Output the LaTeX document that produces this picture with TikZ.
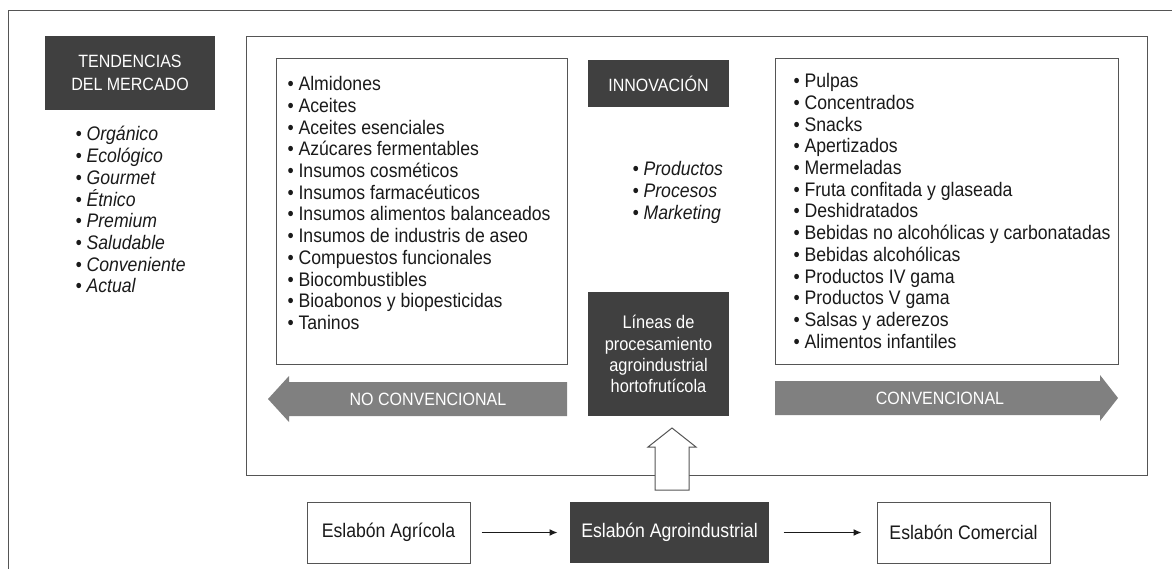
\documentclass[tikz,border=0pt]{standalone}
\usepackage{fontspec}
\setmainfont{Liberation Sans}[FakeStretch=0.9]
\usetikzlibrary{positioning,calc,arrows.meta}
\definecolor{boxdark}{HTML}{404040}
\definecolor{bandgray}{HTML}{808080}
\definecolor{framegray}{HTML}{555555}
\definecolor{inkgray}{HTML}{1a1a1a}
\newcommand{\listsize}{\fontsize{19.6}{21.7}\selectfont}
\newcommand{\capsize}{\fontsize{17.8}{23}\selectfont}

\begin{document}
\begin{tikzpicture}[x=1pt, y=-1pt, line width=1pt, >={Latex[length=8pt,width=7pt]}, node distance=99pt]
\tikzstyle{darkbox}=[fill=boxdark, text=white, align=center, inner sep=0pt]
\tikzstyle{whitebox}=[draw=framegray, fill=white, align=center, inner sep=0pt]
\tikzstyle{items}=[align=left, anchor=north west, inner sep=0pt, text=inkgray, font=\listsize]
\tikzstyle{band}=[fill=bandgray]
\useasboundingbox (0,0) rectangle (1172,569);
% outer frame (cut at right and bottom)
\draw[framegray] (8,569) -- (8,11) -- (1172,11);

\node[darkbox, minimum width=170, minimum height=74, font=\capsize] (tend) at (130,73) {TENDENCIAS\\DEL MERCADO};
\node[items, font=\listsize\itshape] (tendlist) at (75,126)
  {\textbullet\ Orgánico\\\textbullet\ Ecológico\\\textbullet\ Gourmet\\\textbullet\ Étnico\\
   \textbullet\ Premium\\\textbullet\ Saludable\\\textbullet\ Conveniente\\\textbullet\ Actual};

% big frame of the agroindustrial link
\node[whitebox, minimum width=901, minimum height=438] (cadena) at (696.5,256) {};

\node[whitebox, minimum width=291, minimum height=305] (nocbox) at (421.5,211.5) {};
\node[items] (noclist) at (287,76)
  {\textbullet\ Almidones\\\textbullet\ Aceites\\\textbullet\ Aceites esenciales\\
   \textbullet\ Azúcares fermentables\\\textbullet\ Insumos cosméticos\\
   \textbullet\ Insumos farmacéuticos\\\textbullet\ Insumos alimentos balanceados\\
   \textbullet\ Insumos de industris de aseo\\\textbullet\ Compuestos funcionales\\
   \textbullet\ Biocombustibles\\\textbullet\ Bioabonos y biopesticidas\\\textbullet\ Taninos};

\node[whitebox, minimum width=343, minimum height=305] (convbox) at (946.5,211.5) {};
\node[items] (convlist) at (793,73)
  {\textbullet\ Pulpas\\\textbullet\ Concentrados\\\textbullet\ Snacks\\\textbullet\ Apertizados\\
   \textbullet\ Mermeladas\\\textbullet\ Fruta confitada y glaseada\\\textbullet\ Deshidratados\\
   \textbullet\ Bebidas no alcohólicas y carbonatadas\\\textbullet\ Bebidas alcohólicas\\
   \textbullet\ Productos IV gama\\\textbullet\ Productos V gama\\
   \textbullet\ Salsas y aderezos\\\textbullet\ Alimentos infantiles};

\node[darkbox, minimum width=141, minimum height=47, font=\capsize] (innov) at (658.5,83.5) {INNOVACIÓN};
\node[items, font=\listsize\itshape] (innovlist) at (632,161)
  {\textbullet\ Productos\\\textbullet\ Procesos\\\textbullet\ Marketing};

\node[darkbox, minimum width=141, minimum height=124, font=\fontsize{18.2}{21.2}\selectfont] (lineas) at (658.5,354)
  {Líneas de\\procesamiento\\agroindustrial\\hortofrutícola};

% wide arrows
\fill[band] (567,382) -- (289,382) -- (289,376) -- (268,399) -- (289,422) -- (289,416) -- (567,416) -- cycle;
\node[text=white, font=\capsize] (noconv) at (428,399) {NO CONVENCIONAL};
\fill[band] (775,381) -- (1100,381) -- (1100,375) -- (1118,398) -- (1100,421) -- (1100,415) -- (775,415) -- cycle;
\node[text=white, font=\capsize] (conv) at (940,398) {CONVENCIONAL};

% chain
\node[darkbox, minimum width=199, minimum height=61, font=\listsize] (agro) at (669.5,532.5) {Eslabón Agroindustrial};
\node[whitebox, minimum width=163, minimum height=61, font=\listsize, text=inkgray] (agricola) [left=of agro] {Eslabón Agrícola};
\node[whitebox, minimum width=173, minimum height=61, font=\listsize, text=inkgray] (comercial) [right=107pt of agro] {Eslabón Comercial};

\draw[framegray, fill=white] (655,490) -- (655,447) -- (648,447) -- (672,428) -- (696,447) -- (689,447) -- (689,490) -- cycle;

\draw[->, inkgray, line width=1.2pt, shorten <=11pt, shorten >=12pt] (agricola) -- (agro);
\draw[->, inkgray, line width=1.2pt, shorten <=14pt, shorten >=15pt] (agro) -- (comercial);
\end{tikzpicture}
\end{document}
